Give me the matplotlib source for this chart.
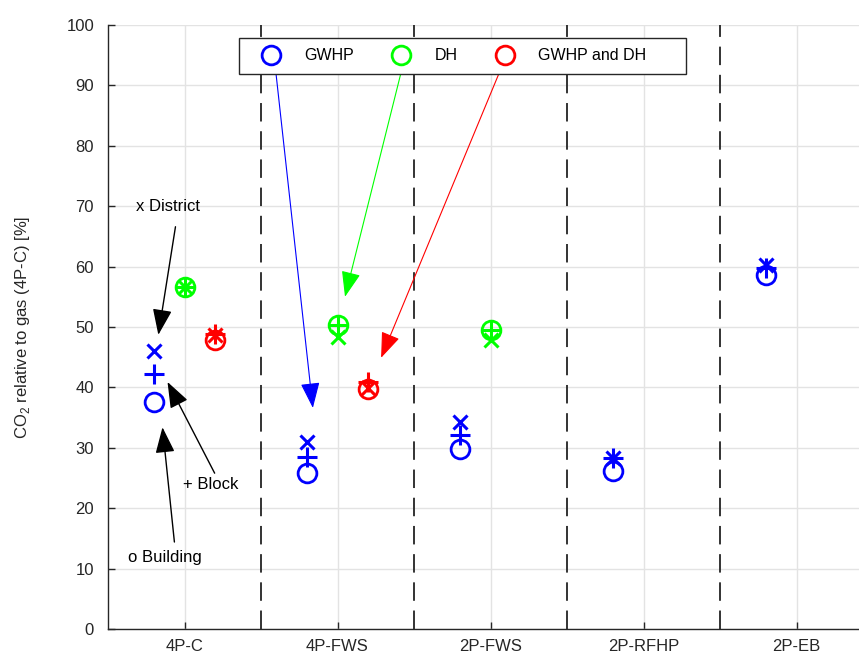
import numpy as np
import matplotlib
matplotlib.use("Agg")
import matplotlib.pyplot as plt
from matplotlib.lines import Line2D
from matplotlib.patches import Rectangle

plt.rcParams['font.family'] = ['Liberation Sans', 'DejaVu Sans']
plt.rcParams['mathtext.fontset'] = 'custom'
plt.rcParams['mathtext.rm'] = 'Liberation Sans'

nan = np.nan

categories = ['4P-C', '4P-FWS', '2P-FWS', '2P-RFHP', '2P-EB']

# CO2 relative to gas, per system and per scale (building / block / district)
gwhp_building = [37.6, 25.8, 29.8, 26.2, 58.6]
gwhp_block = [42.2, 28.5, 32.1, 28.3, 59.8]
gwhp_district = [46.0, 31.0, 34.3, 28.3, 60.3]

dh_building = [56.6, 50.3, 49.5, nan, nan]
dh_block = [56.6, 50.3, 49.5, nan, nan]
dh_district = [56.6, 48.3, 47.8, nan, nan]

both_building = [47.8, 39.7, nan, nan, nan]
both_block = [48.8, 40.9, nan, nan, nan]
both_district = [48.6, 39.9, nan, nan, nan]

W, H = 859, 654
fig = plt.figure(figsize=(W / 100, H / 100), dpi=100)
ax = fig.add_axes([108 / W, 25 / H, 765 / W, 604 / H])

x = np.arange(1, len(categories) + 1)

series = [
    ('GWHP', 'b', -0.2, gwhp_building, gwhp_block, gwhp_district),
    ('DH', '#00ff00', 0.0, dh_building, dh_block, dh_district),
    ('GWHP and DH', 'r', 0.2, both_building, both_block, both_district),
]

for name, col, off, bld, blk, dist in series:
    ax.plot(x + off, bld, 'o', ls='none', ms=13.5, mfc='none', mec=col, mew=2)
    ax.plot(x + off, blk, '+', ls='none', ms=15, mec=col, mew=2.2)
    ax.plot(x + off, dist, 'x', ls='none', ms=10.5, mec=col, mew=2.2)

# dashed separators between categories
for xs in x[:-1] + 0.5:
    ax.plot([xs, xs], [0, 100], color='#333333', lw=1.4, ls=(0, (9.5, 5)), zorder=1)

ax.set_xlim(0.5, 5.5)
ax.set_ylim(0, 100)
ax.set_xticks(x)
ax.set_xticklabels(categories)
ax.set_yticks(np.arange(0, 101, 10))
ax.tick_params(direction='in', length=5, width=1, labelsize=12, colors='#262626', pad=7)
ax.tick_params(axis='y', pad=10)
ax.grid(True, color='#e3e3e3', lw=1)
ax.set_axisbelow(True)
for s in ['top', 'right']:
    ax.spines[s].set_visible(False)
for s in ['left', 'bottom']:
    ax.spines[s].set_color('#262626')
    ax.spines[s].set_linewidth(1)

ax.set_ylabel(r'CO$_{2}$ relative to gas (4P-C) [%]', fontsize=12, color='#262626', labelpad=25)

# scale labels with arrows
ax.text(0.895, 69.9, 'x District', fontsize=12, ha='center', va='center')
ax.text(1.17, 24.0, '+ Block', fontsize=12, ha='center', va='center')
ax.text(0.875, 11.9, 'o Building', fontsize=12, ha='center', va='center')

black_arrows = [((0.941, 66.6), (0.829, 48.7)),
                ((1.197, 25.8), (0.889, 40.9)),
                ((0.934, 14.4), (0.856, 33.4))]
for tail, head in black_arrows:
    ax.annotate('', xy=head, xytext=tail,
                arrowprops=dict(arrowstyle='-|>,head_length=0.8,head_width=0.3',
                                color='k', lw=1, shrinkA=0, shrinkB=0, mutation_scale=20))

color_arrows = [('b', (1.597, 92.2), (1.839, 36.6)),
                ('#00ff00', (2.416, 92.2), (2.049, 55.0)),
                ('r', (3.059, 92.2), (2.285, 44.9))]
for col, tail, head in color_arrows:
    ax.annotate('', xy=head, xytext=tail,
                arrowprops=dict(arrowstyle='-|>,head_length=0.8,head_width=0.3',
                                color=col, lw=0.8, shrinkA=0, shrinkB=0, mutation_scale=20))

# legend
handles = [Line2D([], [], marker='o', ls='none', ms=13.5, mfc='none', mec=col, mew=2)
           for _, col, *_ in series]
labels = [s[0] for s in series]
fig.patches.append(Rectangle((239 / W, 1 - 74 / H), (686 - 239) / W, 36 / H,
                             transform=fig.transFigure, fill=True, fc='white',
                             ec='#262626', lw=1, zorder=5))
leg = fig.legend(handles, labels, loc='center left', bbox_to_anchor=(261 / W, 1 - 56 / H),
                 ncol=3, frameon=False, fontsize=11.5, handlelength=1.3,
                 handletextpad=1.43, columnspacing=2.3, borderpad=0, borderaxespad=0)
leg.set_zorder(6)

fig.savefig('out.png', dpi=100)
